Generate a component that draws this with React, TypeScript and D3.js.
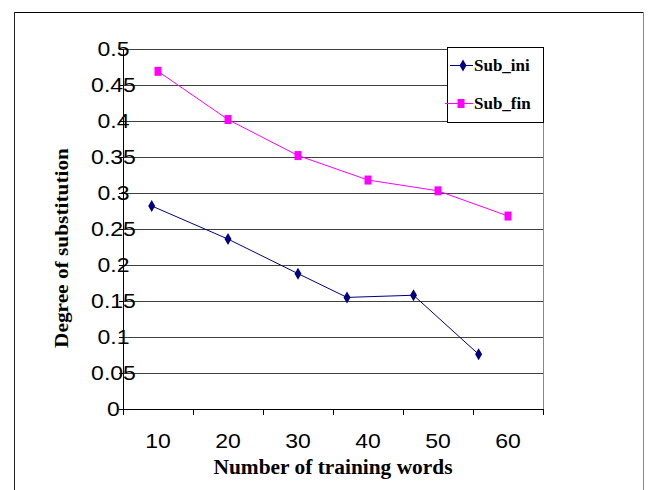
import React from 'react';
import * as d3 from 'd3';

// values
const xLabels = [10, 20, 30, 40, 50, 60];
const yTicks = [0, 0.05, 0.1, 0.15, 0.2, 0.25, 0.3, 0.35, 0.4, 0.45, 0.5];
const subIniX = [9.1, 20, 30, 37, 46.5, 55.8];
const subIniY = [0.282, 0.236, 0.188, 0.155, 0.158, 0.076];
const subFinX = [10, 20, 30, 40, 50, 60];
const subFinY = [0.469, 0.402, 0.352, 0.318, 0.303, 0.268];

const W = 648, H = 490;
const M = { l: 123, r: 543, t: 49, b: 409 };
const NAVY = '#000080', PINK = '#ff00ff';
const ARIAL = 'Liberation Sans, Arial, sans-serif';
const TIMES = 'Liberation Serif, Times New Roman, serif';

const x = d3.scaleLinear().domain([5, 65]).range([M.l, M.r]);
const y = d3.scaleLinear().domain([0, 0.5]).range([M.b, M.t]);
const line = d3.line<[number, number]>().x(d => x(d[0])).y(d => y(d[1]));

const ini = subIniX.map((v, i) => [v, subIniY[i]] as [number, number]);
const fin = subFinX.map((v, i) => [v, subFinY[i]] as [number, number]);

/* marker helpers */
const Diamond = ({ cx, cy }: { cx: number; cy: number }) => (
  <path d={`M${cx},${cy - 6}L${cx + 3.5},${cy}L${cx},${cy + 6}L${cx - 3.5},${cy}Z`} fill={NAVY} />
);
const Square = ({ cx, cy }: { cx: number; cy: number }) => (
  <rect x={cx - 3.5} y={cy - 4.5} width={7} height={9} fill={PINK} />
);

// stretched Arial label, like the original
const Num = ({ tx, ty, children }: { tx: number; ty: number; children: React.ReactNode }) => (
  <text transform={`translate(${tx},${ty}) scale(1.15,1)`} textAnchor="middle"
    fontFamily={ARIAL} fontSize={20} fill="#000">{children}</text>
);

export default function App() {
  const boundaries = d3.range(7).map(i => 5 + i * 10);
  return (
    <div style={{ position: 'fixed', left: 0, top: 0 }}>
      <svg width={W} height={H} style={{ display: 'block', background: '#fff' }}>
        {/* outer chart border */}
        <line x1={14} x2={644} y1={12.5} y2={12.5} stroke="#000" />
        <line x1={14.5} x2={14.5} y1={12} y2={H} stroke="#222" />
        <line x1={643.5} x2={643.5} y1={12} y2={H} stroke="#888" />

        {/* grid */}
        {yTicks.slice(1).map(t => (
          <line key={t} x1={M.l} x2={M.r} y1={Math.round(y(t)) + 0.5} y2={Math.round(y(t)) + 0.5}
            stroke="#000" strokeOpacity={0.75} />
        ))}
        <line x1={M.r + 0.5} x2={M.r + 0.5} y1={M.t} y2={M.b} stroke="#888" />

        {/* y axis */}
        <line x1={M.l + 0.5} x2={M.l + 0.5} y1={M.t} y2={M.b + 0.5} stroke="#000" />
        {yTicks.map(t => (
          <g key={t}>
            <line x1={M.l - 4} x2={M.l} y1={Math.round(y(t)) + 0.5} y2={Math.round(y(t)) + 0.5} stroke="#000" />
            <Num tx={113.5} ty={y(t) + 7}>{String(t)}</Num>
          </g>
        ))}

        {/* x axis */}
        <line x1={M.l} x2={M.r + 1} y1={Math.round(M.b) + 0.5} y2={Math.round(M.b) + 0.5} stroke="#000" />
        {boundaries.map(b => (
          <line key={b} x1={Math.round(x(b)) + 0.5} x2={Math.round(x(b)) + 0.5} y1={M.b} y2={M.b + 6} stroke="#000" />
        ))}
        {xLabels.map(v => (
          <Num key={v} tx={x(v)} ty={448}>{v}</Num>
        ))}

        {/* axis titles */}
        <text x={333} y={474} textAnchor="middle" fontFamily={TIMES} fontWeight="bold" fontSize={20}
          textLength={239} lengthAdjust="spacingAndGlyphs">Number of training words</text>
        <text transform="translate(68,248) rotate(-90)" textAnchor="middle" fontFamily={TIMES}
          fontWeight="bold" fontSize={19} textLength={200} lengthAdjust="spacingAndGlyphs">Degree of substitution</text>

        {/* series */}
        <path d={line(ini) || ''} fill="none" stroke={NAVY} strokeWidth={1} />
        <path d={line(fin) || ''} fill="none" stroke={PINK} strokeWidth={1} />
        {ini.map((d, i) => <Diamond key={i} cx={x(d[0])} cy={y(d[1])} />)}
        {fin.map((d, i) => <Square key={i} cx={x(d[0])} cy={y(d[1])} />)}

        {/* legend */}
        <rect x={447.5} y={47.5} width={96} height={75} fill="#fff" stroke="#000" />
        <line x1={450} x2={473} y1={65.5} y2={65.5} stroke={NAVY} />
        <Diamond cx={463} cy={65.5} />
        <text x={474} y={71} fontFamily={TIMES} fontWeight="bold" fontSize={17}>Sub_ini</text>
        <line x1={445} x2={473} y1={103.5} y2={103.5} stroke={PINK} />
        <Square cx={461} cy={103.5} />
        <text x={474} y={109} fontFamily={TIMES} fontWeight="bold" fontSize={17}>Sub_fin</text>
      </svg>
    </div>
  );
}
